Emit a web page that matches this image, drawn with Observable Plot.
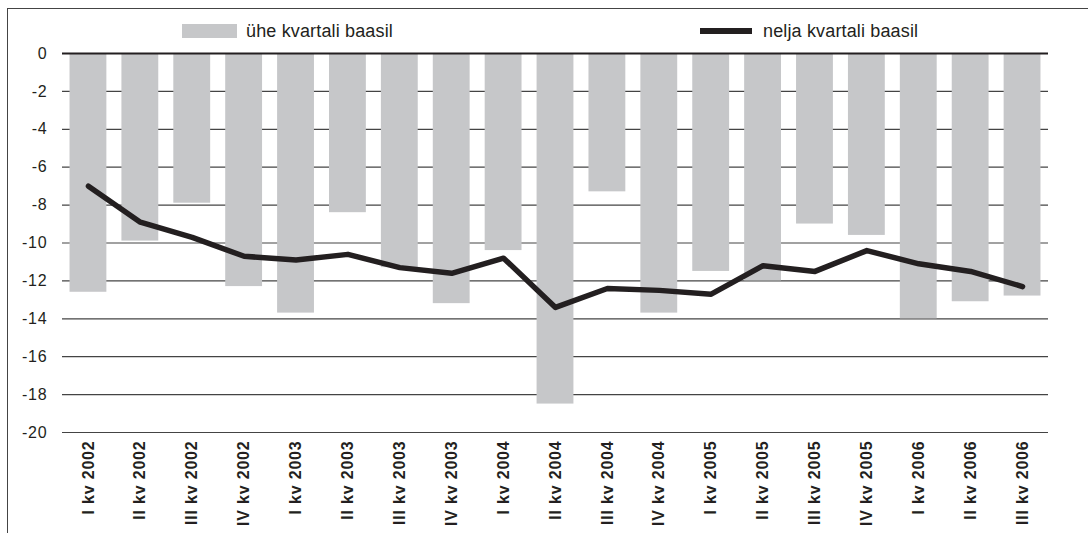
<!DOCTYPE html>
<html>
<head>
<meta charset="utf-8">
<script src="https://cdn.jsdelivr.net/npm/d3@7"></script>
<script src="https://cdn.jsdelivr.net/npm/@observablehq/plot@0.6"></script>
<style>
  html, body { margin: 0; padding: 0; background: #fff; }
  #wrap { position: relative; width: 1088px; height: 533px; overflow: hidden; font-family: "Liberation Sans", Arial, Helvetica, sans-serif; }
  #frame { position: absolute; left: 7px; top: 8px; width: 1200px; height: 600px; border-left: 1.5px solid #444; border-top: 1.5px solid #444; box-sizing: border-box; }
  #legend { position: relative; height: 45px; }
  .sw-bar { position: absolute; left: 182px; top: 24px; width: 55px; height: 14px; background: #c6c7c9; }
  .lab { position: absolute; top: 22px; font-size: 18px; line-height: 18px; color: #231f20; letter-spacing: 0.15px; }
  .lab1 { left: 246px; }
  .sw-line { position: absolute; left: 700px; top: 28px; width: 52px; height: 6px; background: #231f20; }
  .lab2 { left: 763px; }
  #chart svg { display: block; }
  #chart svg text { letter-spacing: 0.8px; }
</style>
</head>
<body>
<div id="wrap">
  <div id="frame"></div>
  <div id="legend">
    <div class="sw-bar"></div><div class="lab lab1">ühe kvartali baasil</div>
    <div class="sw-line"></div><div class="lab lab2">nelja kvartali baasil</div>
  </div>
  <div id="chart"></div>
</div>
<script>
const quarters = ["I kv 2002","II kv 2002","III kv 2002","IV kv 2002",
  "I kv 2003","II kv 2003","III kv 2003","IV kv 2003",
  "I kv 2004","II kv 2004","III kv 2004","IV kv 2004",
  "I kv 2005","II kv 2005","III kv 2005","IV kv 2005",
  "I kv 2006","II kv 2006","III kv 2006"];
const oneQuarter = [-12.6,-9.9,-7.9,-12.3,-13.7,-8.4,-11.3,-13.2,-10.4,-18.5,-7.3,-13.7,-11.5,-12.0,-9.0,-9.6,-14.0,-13.1,-12.8];
const fourQuarters = [-7.0,-8.9,-9.7,-10.7,-10.9,-10.6,-11.3,-11.6,-10.8,-13.4,-12.4,-12.5,-12.7,-11.2,-11.5,-10.4,-11.1,-11.5,-12.3];
const yTicks = [0,-2,-4,-6,-8,-10,-12,-14,-16,-18,-20];

const data = quarters.map((q, i) => ({q, one: oneQuarter[i], four: fourQuarters[i]}));

const chart = Plot.plot({
  width: 1088,
  height: 488,
  marginTop: 8,
  marginBottom: 101,
  marginLeft: 62,
  marginRight: 40,
  style: {fontFamily: '"Liberation Sans", Arial, Helvetica, sans-serif', color: "#231f20", background: "#fff"},
  x: {domain: quarters, paddingInner: 0.29, paddingOuter: 0.145, round: false, label: null},
  y: {domain: [-20, 0], label: null},
  marks: [
    Plot.ruleY(yTicks.filter(d => d !== 0), {stroke: "#444", strokeWidth: 1.2}),
    Plot.barY(data, {x: "q", y1: 0, y2: "one", fill: "#c6c7c9"}),
    Plot.ruleY([0], {stroke: "#231f20", strokeWidth: 1.8}),
    Plot.line(data, {x: "q", y: "four", stroke: "#231f20", strokeWidth: 5.5, strokeLinejoin: "round"}),
    Plot.axisY({ticks: yTicks, tickSize: 0, tickPadding: 15, fontSize: 16, tickFormat: d => d === 0 ? "0" : "-" + Math.abs(d)}),
    Plot.axisX({tickSize: 0, tickPadding: 8, tickRotate: -90, fontSize: 16, fontWeight: "bold"})
  ]
});
document.getElementById("chart").appendChild(chart);
</script>
</body>
</html>
